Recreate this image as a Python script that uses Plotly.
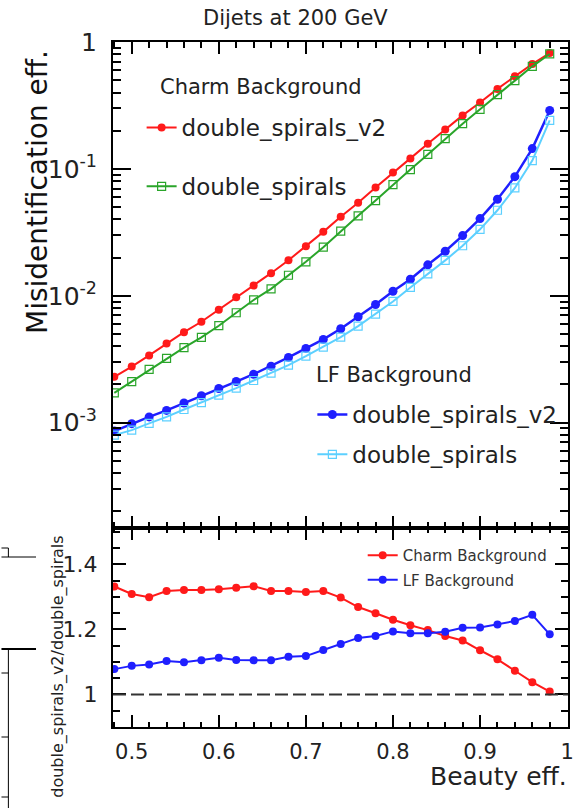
import plotly.graph_objects as go

# ---------------- data ----------------
beauty_eff = [0.48, 0.50, 0.52, 0.54, 0.56, 0.58, 0.60, 0.62, 0.64, 0.66, 0.68, 0.70, 0.72,
              0.74, 0.76, 0.78, 0.80, 0.82, 0.84, 0.86, 0.88, 0.90, 0.92, 0.94, 0.96, 0.98]

charm_v2 = [0.00230, 0.00277, 0.00339, 0.00421, 0.00517, 0.00624, 0.00776, 0.00973, 0.01205,
            0.01507, 0.01906, 0.02458, 0.0319, 0.0419, 0.0540, 0.0712, 0.0935, 0.121, 0.158,
            0.204, 0.264, 0.334, 0.427, 0.536, 0.671, 0.819]
charm_ds = [0.00172, 0.00211, 0.00263, 0.00321, 0.00390, 0.00470, 0.00581, 0.00735, 0.00927,
            0.01135, 0.01452, 0.01853, 0.02416, 0.0323, 0.0427, 0.0563, 0.0752, 0.0987, 0.130,
            0.173, 0.227, 0.295, 0.385, 0.496, 0.643, 0.805]
lf_v2 = [0.000859, 0.000982, 0.00111, 0.00125, 0.00143, 0.00163, 0.00186, 0.00211, 0.00241,
         0.00279, 0.00327, 0.00385, 0.00453, 0.00550, 0.00684, 0.00854, 0.01086, 0.01349,
         0.01754, 0.02245, 0.0298, 0.0406, 0.0577, 0.0869, 0.1445, 0.289]
lf_ds = [0.000798, 0.000874, 0.000987, 0.00111, 0.00127, 0.00144, 0.00165, 0.00187, 0.00215,
         0.00246, 0.00284, 0.00334, 0.00394, 0.00472, 0.00577, 0.00716, 0.00902, 0.01164,
         0.0149, 0.0190, 0.0248, 0.0334, 0.0472, 0.0708, 0.1162, 0.241]

ratio_charm = [1.332, 1.309, 1.299, 1.318, 1.321, 1.321, 1.324, 1.328, 1.333, 1.318, 1.318,
               1.315, 1.318, 1.298, 1.269, 1.250, 1.230, 1.213, 1.198, 1.180, 1.166, 1.136,
               1.108, 1.073, 1.038, 1.009]
ratio_lf = [1.078, 1.088, 1.092, 1.103, 1.099, 1.105, 1.113, 1.106, 1.105, 1.105, 1.116, 1.118,
            1.137, 1.155, 1.174, 1.180, 1.194, 1.188, 1.188, 1.193, 1.205, 1.206, 1.215, 1.226,
            1.245, 1.185]

top_tickvals = [1e-3, 1e-2, 1e-1, 1]
top_ticktext = ["10<sup>-3</sup>", "10<sup>-2</sup>", "10<sup>-1</sup>", "1"]
bot_tickvals = [1.0, 1.2, 1.4]
bot_ticktext = ["1", "1.2", "1.4"]

# ---------------- style ----------------
RED = "#ff1a1a"
GREEN = "#2aa52a"
BLUE = "#1f1fff"
LBLUE = "#5cd0ff"
TXT = "#222222"
FONT = "DejaVu Sans"
W, H = 581, 808
ML, MR, MT, MB = 113, 7, 42, 81
PW, PH = W - ML - MR, H - MT - MB
SPLIT = 528  # pixel row of panel border


def px(x):
    return (x - ML) / PW


def py(y):
    return (H - MB - y) / PH


fig = go.Figure()

fig.add_trace(go.Scatter(x=beauty_eff, y=charm_v2, mode="lines+markers", name="double_spirals_v2",
                         line=dict(color=RED, width=2), marker=dict(color=RED, size=8, symbol="circle"),
                         xaxis="x", yaxis="y", legend="legend", legendgroup="a"))
fig.add_trace(go.Scatter(x=beauty_eff, y=charm_ds, mode="lines+markers", name="double_spirals",
                         line=dict(color=GREEN, width=2),
                         marker=dict(color=GREEN, size=8, symbol="square-open", line=dict(width=1.2)),
                         xaxis="x", yaxis="y", legend="legend", legendgroup="b"))
fig.add_trace(go.Scatter(x=beauty_eff, y=lf_v2, mode="lines+markers", name="double_spirals_v2",
                         line=dict(color=BLUE, width=2.5), marker=dict(color=BLUE, size=9, symbol="circle"),
                         xaxis="x", yaxis="y", legend="legend2", legendgroup="c"))
fig.add_trace(go.Scatter(x=beauty_eff, y=lf_ds, mode="lines+markers", name="double_spirals",
                         line=dict(color=LBLUE, width=2),
                         marker=dict(color=LBLUE, size=8, symbol="square-open", line=dict(width=1.2)),
                         xaxis="x", yaxis="y", legend="legend2", legendgroup="d"))

fig.add_trace(go.Scatter(x=beauty_eff, y=ratio_charm, mode="lines+markers", name="Charm Background",
                         line=dict(color=RED, width=2), marker=dict(color=RED, size=8),
                         xaxis="x2", yaxis="y2", legend="legend3", legendgroup="e"))
fig.add_trace(go.Scatter(x=beauty_eff, y=ratio_lf, mode="lines+markers", name="LF Background",
                         line=dict(color=BLUE, width=2), marker=dict(color=BLUE, size=8),
                         xaxis="x2", yaxis="y2", legend="legend3", legendgroup="f"))

split = py(SPLIT)
axis_common = dict(showline=True, linecolor="black", linewidth=2, mirror="ticks",
                   ticks="inside", tickcolor="black", tickwidth=1.5, showgrid=False, zeroline=False)
xr = [0.4785, 1.001]

fig.update_layout(
    width=W, height=H,
    margin=dict(l=ML, r=MR, t=MT, b=MB, pad=0),
    paper_bgcolor="white", plot_bgcolor="white",
    font=dict(family=FONT, color=TXT),
    xaxis=dict(domain=[0, 1], anchor="y", range=xr, dtick=0.1, tick0=0.5, ticklen=12,
               showticklabels=False,
               minor=dict(dtick=0.02, tick0=0.5, ticklen=6, ticks="inside", tickcolor="black", tickwidth=1.5),
               **axis_common),
    yaxis=dict(domain=[split, 1], anchor="x", type="log", range=[-3.83, 0.0],
               tickvals=top_tickvals, ticktext=top_ticktext, ticklen=18,
               tickfont=dict(size=25, color=TXT), ticklabelstandoff=9,
               minor=dict(dtick="D1", ticklen=8, ticks="inside", tickcolor="black", tickwidth=1.5),
               **axis_common),
    xaxis2=dict(domain=[0, 1], anchor="y2", matches="x", range=xr, dtick=0.1, tick0=0.5, ticklen=12,
                tickfont=dict(size=21, color=TXT), ticklabelstandoff=5,
                minor=dict(dtick=0.02, tick0=0.5, ticklen=5, ticks="inside", tickcolor="black", tickwidth=1.5),
                **axis_common),
    yaxis2=dict(domain=[0, split], anchor="x2", range=[0.9, 1.512],
                tickvals=bot_tickvals, ticktext=bot_ticktext, ticklen=13,
                tickfont=dict(size=22, color=TXT), ticklabelstandoff=9,
                minor=dict(dtick=0.05, tick0=1.0, ticklen=7, ticks="inside", tickcolor="black", tickwidth=1.5),
                **axis_common),
    legend=dict(x=px(142), y=py(106), xanchor="left", yanchor="top", bgcolor="rgba(0,0,0,0)",
                font=dict(size=23, color=TXT), tracegroupgap=26, itemwidth=30),
    legend2=dict(x=px(315), y=py(393), xanchor="left", yanchor="top", bgcolor="rgba(0,0,0,0)",
                 font=dict(size=23, color=TXT), tracegroupgap=7, itemwidth=30),
    legend3=dict(x=px(366), y=py(539), xanchor="left", yanchor="top", bgcolor="rgba(0,0,0,0)",
                 font=dict(size=15, color="#333333"), tracegroupgap=2, itemwidth=30),
    showlegend=True,
)

annotations = [
    dict(text="Dijets at 200 GeV", x=px(298), y=py(18), xref="paper", yref="paper",
         showarrow=False, font=dict(size=21, color=TXT), xanchor="center", yanchor="middle"),
    dict(text="Charm Background", x=px(159), y=py(87), xref="paper", yref="paper",
         showarrow=False, font=dict(size=21, color=TXT), xanchor="left", yanchor="middle"),
    dict(text="LF Background", x=px(317), y=py(375), xref="paper", yref="paper",
         showarrow=False, font=dict(size=21, color=TXT), xanchor="left", yanchor="middle"),
    dict(text="Misidentification eff.", x=px(37), y=py(192), xref="paper", yref="paper",
         showarrow=False, textangle=-90, font=dict(size=28, color="#111111"),
         xanchor="center", yanchor="middle"),
    dict(text="double_spirals_v2/double_spirals", x=px(57), y=py(667), xref="paper", yref="paper",
         showarrow=False, textangle=-90, font=dict(size=16, color=TXT),
         xanchor="center", yanchor="middle"),
    dict(text="Beauty eff.", x=px(575), y=py(776), xref="paper", yref="paper",
         showarrow=False, font=dict(size=25, color=TXT), xanchor="right", yanchor="middle"),
]
fig.update_layout(annotations=annotations)

# reference line at ratio 1
shapes = [dict(type="line", xref="x2 domain", yref="y2", x0=0, x1=1, y0=1, y1=1,
               line=dict(color="#333333", width=2, dash="13px,5px"))]
# fragments of a neighbouring figure at left edge
frag = dict(color="black", width=1)
shapes += [
    dict(type="line", xref="paper", yref="paper", x0=px(0), x1=px(7), y0=py(548), y1=py(548), line=frag),
    dict(type="line", xref="paper", yref="paper", x0=px(7), x1=px(7), y0=py(548), y1=py(557), line=frag),
    dict(type="line", xref="paper", yref="paper", x0=px(0), x1=px(35), y0=py(557), y1=py(557), line=frag),
    dict(type="line", xref="paper", yref="paper", x0=px(0), x1=px(35), y0=py(649), y1=py(649),
         line=dict(color="black", width=2)),
    dict(type="line", xref="paper", yref="paper", x0=px(7), x1=px(7), y0=py(649), y1=py(808), line=frag),
    dict(type="line", xref="paper", yref="paper", x0=px(0), x1=px(7), y0=py(673), y1=py(673), line=frag),
    dict(type="line", xref="paper", yref="paper", x0=px(0), x1=px(7), y0=py(737), y1=py(737), line=frag),
    dict(type="line", xref="paper", yref="paper", x0=px(0), x1=px(7), y0=py(797), y1=py(797), line=frag),
]
fig.update_layout(shapes=shapes)

fig.write_html("out.html")
